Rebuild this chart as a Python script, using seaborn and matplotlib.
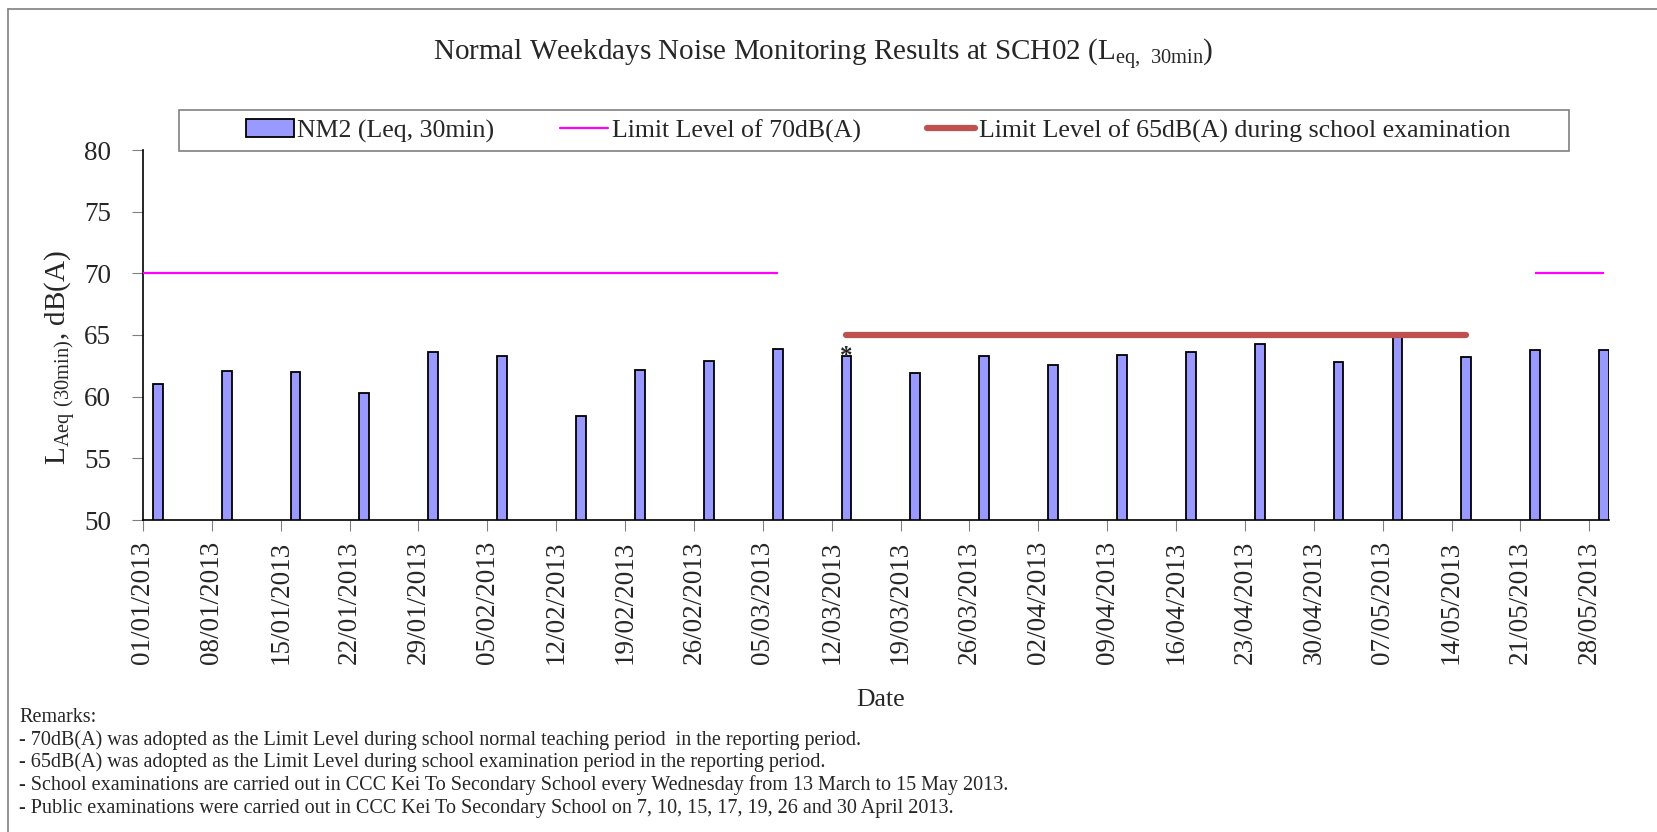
import pandas as pd
import matplotlib
matplotlib.use("Agg")
import matplotlib.pyplot as plt
import seaborn as sns
from matplotlib.patches import Patch, Rectangle
from matplotlib.lines import Line2D

# measurement dates and NM2 Leq(30min) results
dates = ["2013-01-02", "2013-01-09", "2013-01-16", "2013-01-23", "2013-01-30",
         "2013-02-06", "2013-02-14", "2013-02-20", "2013-02-27", "2013-03-06",
         "2013-03-13", "2013-03-20", "2013-03-27", "2013-04-03", "2013-04-10",
         "2013-04-17", "2013-04-24", "2013-05-02", "2013-05-08", "2013-05-15",
         "2013-05-22", "2013-05-29"]
leq = [61.0, 62.1, 62.0, 60.3, 63.6, 63.3, 58.4, 62.2, 62.9, 63.9,
       63.3, 61.9, 63.3, 62.6, 63.4, 63.6, 64.3, 62.8, 65.0, 63.2,
       63.8, 63.8]

# limit level segments (start date, end date)
limit70_segments = [("2012-12-31", "2013-03-06"), ("2013-05-22", "2013-05-29")]
limit70 = 70
limit65_segments = [("2013-03-13", "2013-05-15")]
limit65 = 65

marked_date = "2013-03-13"

tick_labels = ["01/01/2013", "08/01/2013", "15/01/2013", "22/01/2013", "29/01/2013",
               "05/02/2013", "12/02/2013", "19/02/2013", "26/02/2013", "05/03/2013",
               "12/03/2013", "19/03/2013", "26/03/2013", "02/04/2013", "09/04/2013",
               "16/04/2013", "23/04/2013", "30/04/2013", "07/05/2013", "14/05/2013",
               "21/05/2013", "28/05/2013"]

remarks = [
    "Remarks:",
    "- 70dB(A) was adopted as the Limit Level during school normal teaching period  in the reporting period.",
    "- 65dB(A) was adopted as the Limit Level during school examination period in the reporting period.",
    "- School examinations are carried out in CCC Kei To Secondary School every Wednesday from 13 March to 15 May 2013.",
    "- Public examinations were carried out in CCC Kei To Secondary School on 7, 10, 15, 17, 19, 26 and 30 April 2013.",
]

start = pd.Timestamp("2013-01-01")


def day_pos(d):
    # bar/point sits in the middle of its day slot
    return (pd.Timestamp(d) - start).days + 0.5


sns.set_style("ticks")
plt.rcParams["font.family"] = ["Liberation Serif", "DejaVu Serif"]
plt.rcParams["mathtext.default"] = "regular"

fig = plt.figure(figsize=(16.58, 8.32), dpi=100)
ax = fig.add_axes([143 / 1658, 1 - 520 / 832, 1466 / 1658, 370 / 832])

df = pd.DataFrame({"x": [day_pos(d) for d in dates], "Leq": leq})
sns.barplot(data=df, x="x", y="Leq", native_scale=True, width=1 / 6,
            color="#9999FF", saturation=1, edgecolor="black", linewidth=1.3,
            errorbar=None, ax=ax)

for s, e in limit70_segments:
    ax.plot([day_pos(s), day_pos(e)], [limit70, limit70], color="#FF00FF",
            lw=1.6, solid_capstyle="butt", zorder=3)
for s, e in limit65_segments:
    ax.plot([day_pos(s), day_pos(e)], [limit65, limit65], color="#C0504D",
            lw=4.5, solid_capstyle="round", zorder=3)

mval = leq[dates.index(marked_date)]
ax.text(day_pos(marked_date), mval - 0.55, "*", ha="center", va="baseline",
        fontsize=18, fontweight="bold")

ax.set_xlim(0, 149)
ax.set_ylim(50, 80)
ax.set_yticks(range(50, 81, 5))
ax.set_xticks([7 * i for i in range(len(tick_labels))])
ax.set_xticklabels(tick_labels, rotation=90, fontsize=19.5)
ax.tick_params(axis="y", labelsize=19.5, length=8, pad=15, color="#808080")
ax.tick_params(axis="x", length=8, pad=7, color="#808080")
for sp in ["top", "right"]:
    ax.spines[sp].set_visible(False)
for sp in ["left", "bottom"]:
    ax.spines[sp].set_color("black")
    ax.spines[sp].set_linewidth(1.2)

ax.set_xlabel("Date", fontsize=18.5)
ax.xaxis.set_label_coords((881 - 143) / 1466, -(689 - 520) / 370)
ax.set_ylabel("")
fig.text(60 / 1658, 1 - 358 / 832, "L$_{Aeq\\ (30min)}$, dB(A)", fontsize=21,
         rotation=90, ha="center", va="center", rotation_mode="anchor")

fig.text(823 / 1658, 1 - 55 / 832,
         "Normal Weekdays Noise Monitoring Results at SCH02 (L$_{eq,\\ 30min}$)",
         ha="center", va="center", fontsize=21)

# legend frame and entries
fig.add_artist(Rectangle((179 / 1658, 1 - 151 / 832), (1569 - 179) / 1658, 41 / 832,
                         transform=fig.transFigure, fill=False,
                         edgecolor="#808080", lw=1.2))
handles = [Patch(facecolor="#9999FF", edgecolor="black", lw=1.3),
           Line2D([], [], color="#FF00FF", lw=1.6),
           Line2D([], [], color="#C0504D", lw=4.5)]
labels = ["NM2 (Leq, 30min)", "Limit Level of 70dB(A)",
          "Limit Level of 65dB(A) during school examination"]
fig.legend(handles, labels, loc="center", bbox_to_anchor=(878 / 1658, 1 - 131 / 832),
           ncol=3, frameon=False, fontsize=18.6, handlelength=1.85, handletextpad=0.15,
           columnspacing=2.55, borderpad=0)

for i, line in enumerate(remarks):
    fig.text(19 / 1658, 1 - (717 + 22.8 * i) / 832, line, ha="left", va="center",
             fontsize=14.5)

# outer chart border (left and top visible)
fig.add_artist(Line2D([8 / 1658, 8 / 1658], [0, 1 - 9 / 832], transform=fig.transFigure,
                      color="#808080", lw=1.2))
fig.add_artist(Line2D([8 / 1658, 1], [1 - 9 / 832, 1 - 9 / 832], transform=fig.transFigure,
                      color="#808080", lw=1.2))

fig.savefig("out.png", dpi=100)
